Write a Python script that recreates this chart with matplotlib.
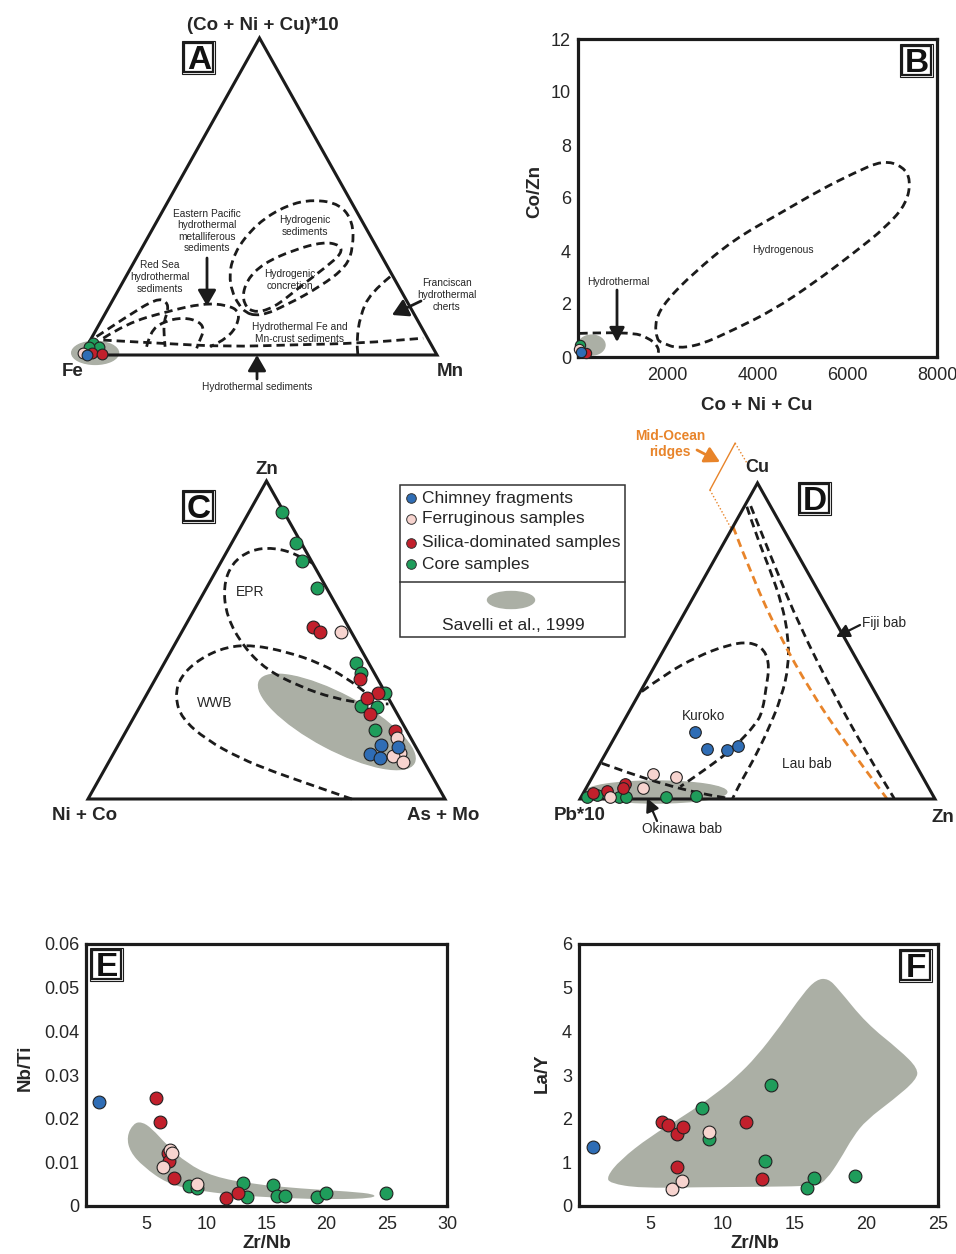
import numpy as np
import matplotlib
matplotlib.use("Agg")
import matplotlib.pyplot as plt
from matplotlib.path import Path
from matplotlib.patches import PathPatch, Ellipse, Rectangle, Polygon

plt.rcParams["font.family"] = ["Liberation Sans", "DejaVu Sans"]

ANCHO, ALTO = 956, 1254
NEGRO = "#1b1b1b"
TEXTO = "#262626"
GRIS = "#abafa5"
NARANJA = "#e8842a"
DASH = (0, (3, 1.8))

categorias = ["Chimney fragments", "Ferruginous samples",
              "Silica-dominated samples", "Core samples"]
colores = ["#2f6db5", "#f7d4cf", "#c2202c", "#1f9d5b"]

# ---------------- A: (Mn %, (Co+Ni+Cu)*10 %) ----------------
a_chimenea = [(1.3, 0.0)]
a_ferrug = [(0.0, 0.5)]
a_silice = [(2.6, 0.5), (5.4, 0.3)]
a_nucleo = [(1.2, 3.9), (3.6, 2.6), (0.8, 2.6)]

a_mar_rojo = [(1.2, 5.8), (6.5, 12.1), (12.1, 17.9), (15.5, 16.8), (17.2, 14.2),
              (17.9, 10.0), (22.1, 2.6)]
a_pacifico = [(3.35, 5.3), (7.6, 10.0), (17.0, 13.7), (26.0, 16.3), (32.9, 15.8),
              (37.6, 13.7), (39.1, 8.9), (38.1, 5.3), (34.8, 2.6)]
a_interno = [(16.9, 2.6), (15.5, 7.4), (17.65, 10.5), (22.55, 11.9), (27.95, 10.5),
             (30.45, 7.9), (30.85, 4.7), (31.25, 2.1)]
a_base = [(3.65, 4.7), (20.15, 3.7), (39.5, 2.6), (57.9, 3.2), (76.45, 3.7), (93.45, 5.3)]
a_hidrogenico = [(38.15, 13.7), (29.9, 22.6), (26.55, 32.1), (28.45, 41.5), (34.05, 47.3),
                 (40.65, 49.1), (48.9, 47.6), (55.3, 42.0), (59.3, 34.2), (60.65, 27.9),
                 (56.25, 21.5), (49.8, 15.8), (44.05, 12.1)]
a_concrecion = [(36.3, 17.4), (34.55, 23.7), (36.65, 28.9), (42.95, 33.1), (50.15, 35.7),
                (55.35, 34.7), (57.15, 32.1), (54.95, 27.9), (50.65, 21.5), (46.55, 14.7),
                (41.2, 13.2)]
a_franciscano = [(74.45, 24.7), (71.35, 19.5), (72.25, 12.1), (75.05, 4.7), (77.7, 0.0)]

# ---------------- B: Co+Ni+Cu vs Co/Zn ----------------
b_chimenea = [(60, 0.18)]
b_ferrug = [(30, 0.32)]
b_silice = [(180, 0.16)]
b_nucleo = [(40, 0.45)]
b_hidrogenado = [(1753, 0.64), (1716, 1.40), (1976, 2.15), (2570, 3.16), (3461, 4.42),
                 (4501, 5.42), (5392, 6.30), (6134, 6.93), (6803, 7.43), (7248, 7.18),
                 (7413, 6.68), (7323, 5.80), (6878, 4.92), (6134, 3.91), (5243, 2.78),
                 (4352, 1.77), (3461, 1.02), (2718, 0.45), (2199, 0.33), (1901, 0.52)]
b_hidrotermal = [(30, 0.89), (1159, 0.96), (1604, 0.70), (1812, 0.33), (1768, 0.04)]
b_xticks = [2000, 4000, 6000, 8000]
b_yticks = [0, 2, 4, 6, 8, 10, 12]

# ---------------- C: (As+Mo %, Zn %) ----------------
c_chimenea = [(73.5, 17.0), (78.7, 16.4), (71.9, 14.2), (75.4, 12.8)]
c_ferrug = [(44.5, 52.6), (77.1, 19.1), (80.1, 14.6), (78.6, 13.5), (82.3, 11.7)]
c_silice = [(36.0, 54.2), (38.8, 52.4), (57.4, 37.6), (64.7, 33.2), (62.4, 31.7),
            (65.6, 26.7), (75.3, 21.4)]
c_nucleo = [(9.1, 90.3), (18.0, 80.6), (22.6, 74.9), (30.9, 66.4), (53.6, 42.9),
            (56.6, 39.5), (66.5, 33.4), (61.7, 29.3), (66.4, 29.0), (69.5, 21.7)]
c_epr = [(25.9, 74.1), (20.0, 77.0), (12.4, 79.1), (6.3, 78.3), (3.2, 74.1), (4.5, 66.8),
         (10.2, 57.3), (19.6, 47.9), (29.7, 40.6), (41.8, 35.3), (52.9, 31.7),
         (63.2, 29.9), (69.2, 29.9)]
c_wwb = [(73.9, 0.0), (67.7, 2.0), (58.9, 4.9), (47.6, 8.6), (36.2, 12.8), (23.9, 18.6),
         (13.5, 25.4), (8.3, 32.2), (6.6, 38.5), (9.3, 44.2), (14.9, 47.9), (22.1, 48.4),
         (32.5, 46.3), (43.7, 42.7), (53.5, 38.0), (61.5, 33.2)]

# ---------------- D: (Zn %, Cu %) ----------------
d_chimenea = [(21.9, 21.1), (27.8, 15.8), (33.6, 15.5), (36.2, 16.8)]
d_ferrug = [(16.7, 7.8), (23.6, 6.9), (15.9, 3.6), (8.1, 0.7)]
d_silice = [(10.3, 4.7), (10.5, 3.4), (6.3, 2.5), (2.8, 1.8)]
d_nucleo = [(1.6, 0.5), (4.2, 1.3), (10.8, 0.5), (12.7, 0.5), (24.0, 0.5), (32.2, 0.9)]
d_kuroko = [(0.4, 34.0), (4.5, 39.8), (10.4, 45.0), (17.0, 48.7), (23.0, 49.8), (28.5, 47.2),
            (32.4, 41.9), (34.7, 35.5), (37.4, 28.2), (37.8, 24.0), (35.2, 16.0),
            (30.9, 9.7), (26.3, 3.9)]
d_okinawa = [(0.5, 11.3), (10.0, 8.1), (22.2, 4.4), (32.9, 1.8), (41.7, 0.2)]
d_lau = [(0.75, 92.5), (8.3, 83.0), (17.3, 72.5), (25.9, 61.9), (33.0, 51.4), (37.8, 41.9),
         (40.6, 32.4), (42.1, 21.8), (42.7, 12.3), (42.6, 5.0), (42.9, 0.2)]
d_fiji = [(1.75, 92.7), (17.2, 74.6), (34.7, 54.5), (54.6, 33.5), (73.5, 14.5), (88.4, 0.2)]
d_dorsal = [(0.0, 86.2), (14.2, 69.3), (30.6, 51.4), (47.5, 34.5), (64.8, 18.7), (86.3, 0.2)]
d_dorsal_fuera = [(-12.3, 97.8), (-12.6, 112.6)]
d_dorsal_punteada = [[(-12.6, 112.6), (-5.5, 105.7)], [(-12.3, 97.8), (-0.4, 85.8)]]

# ---------------- E / F ----------------
e_chimenea = [(1.11, 0.0239)]
e_ferrug = [(6.99, 0.0128), (7.18, 0.0121), (6.43, 0.0090), (9.21, 0.0050)]
e_silice = [(5.82, 0.0247), (6.15, 0.0192), (6.79, 0.0121), (6.93, 0.0104), (7.32, 0.0063),
            (11.62, 0.0018), (12.67, 0.0029)]
e_nucleo = [(8.59, 0.0046), (9.21, 0.0041), (13.08, 0.0052), (13.42, 0.0021), (15.52, 0.0047),
            (15.86, 0.0023), (16.55, 0.0023), (19.19, 0.0020), (19.96, 0.0029), (24.95, 0.0029)]
e_campo = [(3.38, 0.0159), (3.94, 0.0189), (4.63, 0.0193), (5.46, 0.0178), (6.71, 0.0140),
           (8.37, 0.0098), (10.59, 0.0067), (13.92, 0.0050), (17.80, 0.0040), (21.96, 0.0033),
           (24.04, 0.0027), (23.89, 0.0018), (20.57, 0.0015), (16.41, 0.0018), (12.25, 0.0025),
           (8.92, 0.0037), (6.71, 0.0052), (4.77, 0.0090), (3.66, 0.0124)]
e_xticks = [5, 10, 15, 20, 25, 30]
e_yticks = [0, 0.01, 0.02, 0.03, 0.04, 0.05, 0.06]
e_ylabels = ["0", "0.01", "0.02", "0.03", "0.04", "0.05", "0.06"]

f_chimenea = [(1.0, 1.36)]
f_ferrug = [(6.45, 0.38), (7.14, 0.57), (9.05, 1.69)]
f_silice = [(5.80, 1.92), (6.22, 1.85), (6.80, 1.64), (7.26, 1.82), (6.80, 0.90),
            (11.62, 1.93), (12.76, 0.61)]
f_nucleo = [(8.54, 2.24), (9.07, 1.53), (12.97, 1.04), (13.38, 2.77), (15.89, 0.42),
            (16.35, 0.63), (19.21, 0.69)]
f_campo = [(1.93, 0.67), (2.85, 1.05), (4.94, 1.59), (7.26, 2.05), (9.58, 2.58), (10.97, 2.96),
           (12.36, 3.42), (13.99, 4.11), (15.61, 4.87), (16.54, 5.19), (17.35, 5.21),
           (18.04, 4.98), (20.02, 4.18), (22.33, 3.57), (23.61, 3.15), (23.50, 2.89),
           (21.87, 2.43), (20.02, 1.97), (19.09, 1.59), (18.16, 1.05), (17.23, 0.60),
           (16.54, 0.46), (13.06, 0.44), (8.42, 0.43), (4.24, 0.41), (2.16, 0.52)]
f_xticks = [5, 10, 15, 20, 25]
f_yticks = [0, 1, 2, 3, 4, 5, 6]


fig = plt.figure(figsize=(ANCHO / 100, ALTO / 100), dpi=100)


def ejes_px(x0, y0, x1, y1):
    return fig.add_axes([x0 / ANCHO, 1 - y1 / ALTO, (x1 - x0) / ANCHO, (y1 - y0) / ALTO])


def curva(ax, pts, cerrada=False, **kw):
    # curva suave (bezier cuadratica) por los puntos de control
    p = np.asarray(pts, float)
    if cerrada:
        m = (p + np.roll(p, -1, axis=0)) / 2
        verts, codes = [m[-1]], [Path.MOVETO]
        for i in range(len(p)):
            verts += [p[i], m[i]]
            codes += [Path.CURVE3, Path.CURVE3]
    else:
        verts, codes = [p[0]], [Path.MOVETO]
        for i in range(1, len(p) - 1):
            verts += [p[i], (p[i] + p[i + 1]) / 2]
            codes += [Path.CURVE3, Path.CURVE3]
        verts.append(p[-1])
        codes.append(Path.LINETO)
    kw.setdefault("fill", False)
    ax.add_patch(PathPatch(Path(verts, codes), clip_on=False, **kw))


def discontinua(ax, pts, cerrada=False, color=NEGRO):
    curva(ax, pts, cerrada, ec=color, lw=2.0, ls=DASH, zorder=2)


def ternario(lx, by, w, h):
    ax = ejes_px(lx, by - h, lx + w, by)
    ax.k = h / w
    ax.set_xlim(0, 1)
    ax.set_ylim(0, ax.k)
    ax.set_axis_off()
    ax.add_patch(Polygon([(0, 0), (1, 0), (0.5, ax.k)], closed=True, fill=False,
                         ec=NEGRO, lw=2.2, joinstyle="miter", clip_on=False, zorder=3))
    return ax


def tern(ax, pts):
    p = np.asarray(pts, float) / 100
    return np.column_stack([p[:, 0] + p[:, 1] / 2, ax.k * p[:, 1]])


def muestras(ax, series, s, conv=None):
    for i in [3, 2, 1, 0]:
        p = np.asarray(series[i], float)
        if conv is not None:
            p = conv(ax, p)
        ax.scatter(p[:, 0], p[:, 1], s=s, c=colores[i], edgecolors="#222222",
                   linewidths=0.8, zorder=5, clip_on=False)


def caja_xy(ax, xlim, ylim, xticks, yticks, ylabels=None):
    ax.set_xlim(*xlim)
    ax.set_ylim(*ylim)
    for sp in ax.spines.values():
        sp.set_linewidth(2.3)
        sp.set_color(NEGRO)
    ax.set_xticks(xticks)
    ax.set_yticks(yticks)
    if ylabels is not None:
        ax.set_yticklabels(ylabels)
    ax.tick_params(length=0, labelsize=13, colors=TEXTO)
    ax.tick_params(axis="x", pad=7)
    ax.tick_params(axis="y", pad=5)


# ---------------- panel A ----------------
axA = ternario(82, 355, 355, 317)
axA.add_patch(Ellipse((0.037, 0.006), 0.132, 0.065, color=GRIS, zorder=1, clip_on=False))
for campo in [a_mar_rojo, a_pacifico, a_interno, a_base, a_franciscano]:
    discontinua(axA, tern(axA, campo))
for campo in [a_hidrogenico, a_concrecion]:
    discontinua(axA, tern(axA, campo), cerrada=True)
muestras(axA, [a_chimenea, a_ferrug, a_silice, a_nucleo], 60, tern)

# ---------------- panel B ----------------
axB = ejes_px(578, 39, 937, 357)
caja_xy(axB, (0, 8000), (0, 12), b_xticks, b_yticks)
axB.add_patch(Ellipse((305, 0.45), 594, 0.75, color=GRIS, zorder=1))
discontinua(axB, b_hidrogenado, cerrada=True)
discontinua(axB, b_hidrotermal)
muestras(axB, [b_chimenea, b_ferrug, b_silice, b_nucleo], 55)

# ---------------- panel C ----------------
axC = ternario(88, 799, 357, 318)
axC.add_patch(Ellipse((0.697, 0.216), 0.49, 0.154, angle=-28, color=GRIS, zorder=1,
                      clip_on=False))
discontinua(axC, tern(axC, c_epr))
discontinua(axC, tern(axC, c_wwb))
muestras(axC, [c_chimenea, c_ferrug, c_silice, c_nucleo], 85, tern)

# ---------------- panel D ----------------
axD = ternario(580, 799, 355, 316)
axD.add_patch(Ellipse((0.2135, 0.0197), 0.40, 0.062, color=GRIS, zorder=1, clip_on=False))
for campo in [d_kuroko, d_okinawa, d_lau, d_fiji]:
    discontinua(axD, tern(axD, campo))
discontinua(axD, tern(axD, d_dorsal), color=NARANJA)
p = tern(axD, d_dorsal_fuera)
axD.plot(p[:, 0], p[:, 1], color=NARANJA, lw=1.0, clip_on=False)
for tramo in d_dorsal_punteada:
    p = tern(axD, tramo)
    axD.plot(p[:, 0], p[:, 1], color=NARANJA, lw=1.0, ls=(0, (1, 1.5)), clip_on=False)
muestras(axD, [d_chimenea, d_ferrug, d_silice, d_nucleo], 70, tern)

# ---------------- panel E ----------------
axE = ejes_px(86, 944, 447, 1206)
caja_xy(axE, (0, 30), (0, 0.06), e_xticks, e_yticks, e_ylabels)
curva(axE, e_campo, cerrada=True, fill=True, fc=GRIS, ec="none", zorder=1)
muestras(axE, [e_chimenea, e_ferrug, e_silice, e_nucleo], 85)

# ---------------- panel F ----------------
axF = ejes_px(579, 944, 938, 1206)
caja_xy(axF, (0, 25), (0, 6), f_xticks, f_yticks)
curva(axF, f_campo, cerrada=True, fill=True, fc=GRIS, ec="none", zorder=1)
muestras(axF, [f_chimenea, f_ferrug, f_silice, f_nucleo], 85)

# ---------------- textos, flechas y leyenda (coordenadas en pixeles) ----------------
ov = fig.add_axes([0, 0, 1, 1], zorder=20)
ov.set_xlim(0, ANCHO)
ov.set_ylim(ALTO, 0)
ov.set_axis_off()


def txt(x, y, s, fs, bold=False, color=TEXTO, **kw):
    kw.setdefault("ha", "center")
    ov.text(x, y, s, fontsize=fs, fontweight="bold" if bold else "normal",
            color=color, va="center", **kw)


def flecha(x0, y0, x1, y1, color=NEGRO, lw=2.0, hl=0.95, hw=0.55):
    ov.annotate("", xy=(x1, y1), xytext=(x0, y0),
                arrowprops=dict(arrowstyle=f"-|>,head_length={hl},head_width={hw}",
                                color=color, lw=lw, mutation_scale=10,
                                shrinkA=0, shrinkB=0))


def letra(x, y, s):
    ov.add_patch(Rectangle((x - 16.5, y - 16.5), 33, 33, fill=False, ec=NEGRO, lw=0.8))
    ov.add_patch(Rectangle((x - 14.5, y - 14.5), 29, 29, fill=True, fc="white", ec=NEGRO, lw=1.6))
    ov.text(x, y + 3.5, s, fontsize=24, fontweight="bold", color="#111111",
            ha="center", va="center")


# A
txt(263, 25, "(Co + Ni + Cu)*10", 13.5, True)
txt(73, 372, "Fe", 13.5, True)
txt(450, 372, "Mn", 13.5, True)
txt(207, 231, "Eastern Pacific\nhydrothermal\nmetalliferous\nsediments", 7.3)
txt(160, 277, "Red Sea\nhydrothermal\nsediments", 7.3)
txt(305, 226, "Hydrogenic\nsediments", 7.3)
txt(290, 280, "Hydrogenic\nconcretion", 7.3)
txt(447, 295, "Franciscan\nhydrothermal\ncherts", 7.3)
txt(300, 333, "Hydrothermal Fe and\nMn-crust sediments", 7.3)
txt(257, 387, "Hydrothermal sediments", 7.3)
flecha(207, 258, 207, 306)
flecha(257, 379, 257, 355)
flecha(421, 301, 392, 315)
letra(199, 57, "A")

# B
txt(535, 192, "Co/Zn", 13.5, True, rotation=90)
txt(757, 405, "Co + Ni + Cu", 13.5, True)
txt(618, 282, "Hydrothermal", 7.5)
txt(783, 250, "Hydrogenous", 7.5)
flecha(617, 290, 617, 342, hl=0.85, hw=0.45)
letra(917, 60, "B")

# C
txt(267, 469, "Zn", 13.5, True)
txt(85, 815, "Ni + Co", 13.5, True)
txt(443, 815, "As + Mo", 13.5, True)
txt(250, 592, "EPR", 10)
txt(215, 703, "WWB", 10)
letra(199, 506, "C")

# D
txt(757, 468, "Cu", 13, True)
txt(580, 815, "Pb*10", 13.5, True)
txt(943, 818, "Zn", 13.5, True)
txt(704, 716, "Kuroko", 9.8)
txt(807, 764, "Lau bab", 9.8)
txt(862, 623, "Fiji bab", 9.8, ha="left")
txt(682, 829, "Okinawa bab", 9.8)
txt(670, 444, "Mid-Ocean\nridges", 9.9, True, color=NARANJA, linespacing=1.1)
flecha(860, 625, 836, 637, lw=1.6, hl=0.8, hw=0.4)
flecha(657, 821, 647, 798, lw=1.6, hl=0.8, hw=0.4)
flecha(697, 450, 720, 462, color=NARANJA, lw=2.0, hl=0.9, hw=0.5)
letra(815, 498, "D")

# E, F
txt(25, 1068, "Nb/Ti", 13.5, True, rotation=90)
txt(267, 1244, "Zr/Nb", 13.5, True)
letra(107, 964, "E")
txt(542, 1073, "La/Y", 13.5, True, rotation=90)
txt(755, 1244, "Zr/Nb", 13.5, True)
letra(916, 965, "F")

# leyenda
ov.add_patch(Rectangle((400, 485), 225, 152, fill=False, ec="#333333", lw=1.1))
ov.plot([400, 625], [582, 582], color="#333333", lw=1.1)
for i, (nombre, col) in enumerate(zip(categorias, colores)):
    y = [498, 519, 543, 564][i]
    ov.scatter([411], [y], s=48, c=col, edgecolors="#333333", linewidths=0.7)
    ov.text(422, y, nombre, fontsize=12.5, color=TEXTO, va="center", ha="left")
ov.add_patch(Ellipse((511, 600), 47, 17, color=GRIS))
txt(513, 625, "Savelli et al., 1999", 12.5)

fig.savefig("out.png", dpi=100)
